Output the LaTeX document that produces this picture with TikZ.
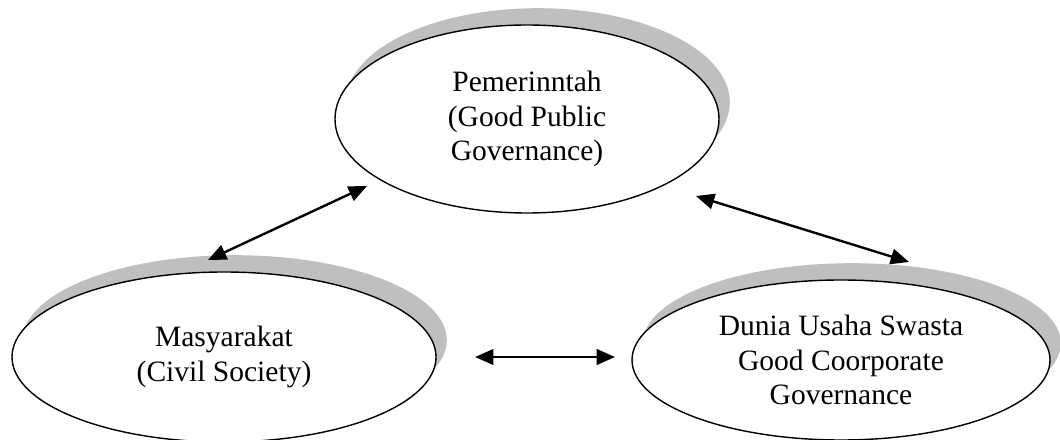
\documentclass[tikz,border=0pt]{standalone}
\usepackage{fontspec}
\setmainfont{Liberation Serif}
\usetikzlibrary{shapes.geometric,shadows,arrows.meta}

\begin{document}
\begin{tikzpicture}[main/.style = {draw, ellipse, fill=white, line width=1pt, inner sep=0pt, align=center,
      font=\fontsize{21}{24.5}\selectfont,
      drop shadow={shadow xshift=0.27cm, shadow yshift=0.42cm, fill=black!25, opacity=1}},
    link/.style = {line width=1.7pt, {Triangle[length=13pt,width=11pt]}-{Triangle[length=13pt,width=11pt]}}]
            \useasboundingbox (0,0) rectangle (26.5,11);
            \node[main, minimum width=9.6cm, minimum height=4.7cm] (pem) at (13.175,8.025) {Pemerinntah\\(Good Public\\Governance)};
            \node[main, minimum width=10.6cm, minimum height=4.25cm] (mas) at (5.6,2.075) {Masyarakat\\(Civil Society)};
            \node[main, minimum width=10.45cm, minimum height=4cm] (dun) at (21.025,2) {Dunia Usaha Swasta\\Good Coorporate\\Governance};
            \coordinate (a1) at (5.2,4.5);
            \coordinate (b1) at (9.175,6.35);
            \coordinate (a2) at (17.4,6.1);
            \coordinate (b2) at (22.725,4.45);
            \coordinate (a3) at (11.875,2.075);
            \coordinate (b3) at (15.375,2.075);
            \draw[link] (a1) -- (b1);
            \draw[link] (a2) -- (b2);
            \draw[link] (a3) -- (b3);
        \end{tikzpicture}
\end{document}
